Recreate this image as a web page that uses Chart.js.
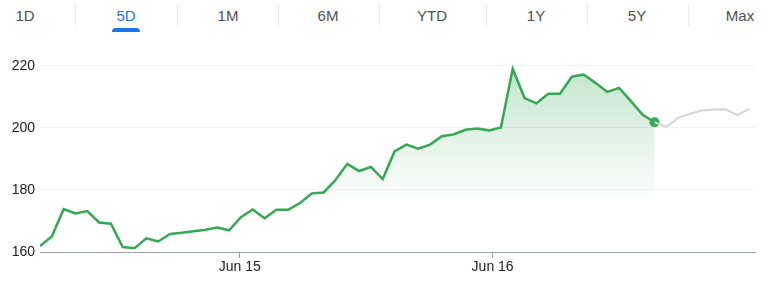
<!DOCTYPE html>
<html>
<head>
<meta charset="utf-8">
<script src="https://cdn.jsdelivr.net/npm/chart.js@4"></script>
<style>
  html, body { margin: 0; padding: 0; background: #fff; }
  body { width: 768px; height: 289px; position: relative; overflow: hidden;
         font-family: Arial, "Liberation Sans", sans-serif; }
  .tabs { position: absolute; left: 0; top: 0; width: 768px; height: 40px; }
  .tab { position: absolute; top: 7px; font-size: 15px; color: #4d5156;
         transform: translateX(-50%); white-space: nowrap; }
  .tab.active { color: #1a73e8; }
  .sep { position: absolute; top: 4px; width: 1px; height: 22px; background: #e8eaed; }
  .underline { position: absolute; top: 28px; height: 4px; background: #1a73e8;
               border-radius: 4px 4px 0 0; }
  #wrap { position: absolute; left: 0; top: 40px; width: 768px; height: 249px; }
</style>
</head>
<body>
<div class="tabs" id="tabs"></div>
<div id="wrap"><canvas id="chart"></canvas></div>
<script>
// range tabs along the top
const tabLabels = ['1D', '5D', '1M', '6M', 'YTD', '1Y', '5Y', 'Max'];
const tabCenters = [25, 126, 228, 328, 432, 536, 637, 740];
const tabSeparators = [75, 177, 278, 379, 486, 587, 688];
const activeTab = 1;

// price series (index = time slot)
const greenValues = [
  161.9, 165.0, 173.8, 172.4, 173.2, 169.5, 169.1, 161.6, 161.2, 164.4,
  163.4, 165.8, 166.2, 166.7, 167.2, 167.9, 167.0, 171.2, 173.7, 170.9,
  173.6, 173.6, 175.8, 178.9, 179.2, 183.2, 188.4, 186.1, 187.4, 183.5,
  192.4, 194.6, 193.3, 194.6, 197.3, 197.9, 199.4, 199.8, 199.2, 200.1,
  219.0, 209.6, 207.9, 211.0, 211.0, 216.5, 217.2, 214.5, 211.6, 212.9,
  208.6, 204.2, 201.8
];
const grayValues = [201.8, 200.3, 203.3, 204.5, 205.6, 205.9, 206.0, 204.1, 206.1];
const grayStart = 52;

const xTickPositions = [16.9, 38.3];
const xTickLabels = ['Jun 15', 'Jun 16'];
const yTicks = [160, 180, 200, 220];

// tabs
const tabs = document.getElementById('tabs');
tabLabels.forEach((t, i) => {
  const el = document.createElement('div');
  el.className = 'tab' + (i === activeTab ? ' active' : '');
  el.style.left = tabCenters[i] + 'px';
  el.textContent = t;
  tabs.appendChild(el);
});
tabSeparators.forEach(x => {
  const s = document.createElement('div');
  s.className = 'sep';
  s.style.left = x + 'px';
  tabs.appendChild(s);
});
const ul = document.createElement('div');
ul.className = 'underline';
ul.style.left = (tabCenters[activeTab] - 14) + 'px';
ul.style.width = '28px';
tabs.appendChild(ul);

const greenPoints = greenValues.map((v, i) => ({ x: i, y: v }));
const grayPoints = grayValues.map((v, i) => ({ x: grayStart + i, y: v }));
const lastIdx = greenValues.length - 1;

const ctx = document.getElementById('chart').getContext('2d');
new Chart(ctx, {
  type: 'line',
  data: {
    datasets: [
      {
        data: grayPoints,
        borderColor: '#d5d5d5',
        borderWidth: 2,
        pointRadius: 0,
        fill: false,
        tension: 0
      },
      {
        data: greenPoints,
        borderColor: '#34a853',
        borderWidth: 2.5,
        tension: 0,
        pointRadius: greenPoints.map((p, i) => i === lastIdx ? 5 : 0),
        pointBackgroundColor: '#34a853',
        pointBorderWidth: 0,
        fill: 'start',
        backgroundColor: function(context) {
          const area = context.chart.chartArea;
          if (!area) return 'rgba(52,168,83,0.2)';
          const g = context.chart.ctx.createLinearGradient(0, area.top + 12, 0, area.top + 150);
          g.addColorStop(0, 'rgba(52,168,83,0.30)');
          g.addColorStop(1, 'rgba(52,168,83,0)');
          return g;
        }
      }
    ]
  },
  options: {
    responsive: true,
    maintainAspectRatio: false,
    animation: false,
    layout: { padding: { top: 6, right: 13, left: 0, bottom: 0 } },
    plugins: { legend: { display: false }, tooltip: { enabled: false } },
    scales: {
      x: {
        type: 'linear',
        min: 0,
        max: 60.5,
        afterBuildTicks: axis => { axis.ticks = xTickPositions.map(v => ({ value: v })); },
        afterFit: axis => { axis.height = 37; },
        ticks: {
          autoSkip: false,
          maxRotation: 0,
          padding: 1,
          color: '#222',
          font: { size: 14, family: 'Arial, "Liberation Sans", sans-serif' },
          callback: (v, i) => xTickLabels[i]
        },
        grid: { drawOnChartArea: false, drawTicks: true, tickLength: 6, color: '#9aa0a6' },
        border: { display: true, color: '#9aa0a6', width: 1 }
      },
      y: {
        min: 160,
        max: 224,
        afterBuildTicks: axis => { axis.ticks = yTicks.map(v => ({ value: v })); },
        afterFit: axis => { axis.width = 40; },
        ticks: {
          padding: 5,
          color: '#222',
          font: { size: 14, family: 'Arial, "Liberation Sans", sans-serif' }
        },
        grid: { drawTicks: false, color: '#f1f3f4' },
        border: { display: false }
      }
    }
  }
});
</script>
</body>
</html>
